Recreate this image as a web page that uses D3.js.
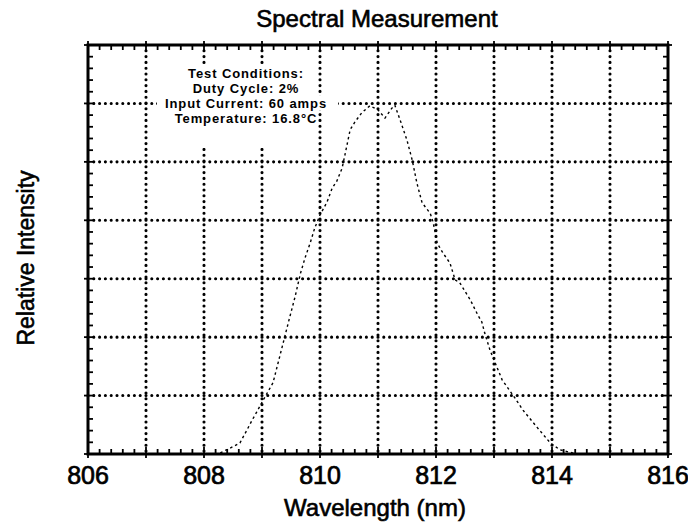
<!DOCTYPE html>
<html>
<head>
<meta charset="utf-8">
<script src="https://cdn.jsdelivr.net/npm/d3@7"></script>
<style>
  body { margin: 0; background: #fff; }
  svg { display: block; }
  text { font-family: "Liberation Sans", Arial, Helvetica, sans-serif; fill: #000; }
</style>
</head>
<body>
<div id="chart"></div>
<script>
// wavelength (nm) and relative intensity (in grid divisions)
const wavelength = [808.28, 808.45, 808.62, 808.74, 808.83, 808.91, 809.02, 809.19, 809.28, 809.47,
    809.57, 809.66, 809.74, 809.83, 809.91, 810.00, 810.12, 810.21, 810.29, 810.38,
    810.43, 810.52, 810.60, 810.72, 810.86, 811.00, 811.12, 811.24, 811.29, 811.38,
    811.50, 811.59, 811.67, 811.76, 811.90, 811.95, 812.02, 812.12, 812.24, 812.33,
    812.41, 812.59, 812.72, 812.79, 812.84, 812.93, 813.02, 813.14, 813.36, 813.50,
    813.74, 813.97, 814.14, 814.43];
const intensity = [0.02, 0.10, 0.19, 0.41, 0.58, 0.72, 0.92, 1.22, 1.57, 2.31,
    2.69, 3.08, 3.35, 3.61, 3.87, 4.09, 4.31, 4.55, 4.67, 4.89,
    5.12, 5.55, 5.68, 5.84, 5.96, 5.89, 5.75, 5.92, 5.97, 5.72,
    5.37, 5.03, 4.64, 4.30, 4.12, 3.97, 3.61, 3.44, 3.27, 2.98,
    2.93, 2.64, 2.38, 2.26, 2.07, 1.78, 1.56, 1.27, 0.96, 0.75,
    0.46, 0.19, 0.07, 0.00];

const xTickLabels = [806, 808, 810, 812, 814, 816];
const xGrid = d3.range(806, 816.001, 1);
const yGrid = d3.range(0, 7.001, 1);
const notes = ['Test Conditions:', 'Duty Cycle: 2%', 'Input Current: 60 amps', 'Temperature: 16.8\u00b0C'];

const width = 688, height = 526;

const x = d3.scaleLinear().domain([806, 816]).range([88, 668]);
const y = d3.scaleLinear().domain([0, 7]).range([454, 45]);

const svg = d3.select('#chart').append('svg')
    .attr('width', width)
    .attr('height', height);

// dotted grid
const grid = svg.append('g')
    .attr('stroke', '#000')
    .attr('stroke-width', 3.1)
    .attr('stroke-linecap', 'round')
    .attr('stroke-dasharray', '0,5.8');

grid.selectAll('.vgrid')
    .data(xGrid.slice(1, -1))
    .enter()
  .append('line')
    .attr('class', 'vgrid')
    .attr('x1', (d) => { return x(d) })
    .attr('x2', (d) => { return x(d) })
    .attr('y1', y(7))
    .attr('y2', y(0));

grid.selectAll('.hgrid')
    .data(yGrid.slice(1, -1))
    .enter()
  .append('line')
    .attr('class', 'hgrid')
    .attr('x1', x(806))
    .attr('x2', x(816))
    .attr('y1', (d) => { return y(d) })
    .attr('y2', (d) => { return y(d) });

// knock-out behind the test conditions note
svg.append('rect')
    .attr('x', 157)
    .attr('y', 64)
    .attr('width', 159)
    .attr('height', 84)
    .attr('fill', '#fff');

svg.append('rect')
    .attr('x', 316)
    .attr('y', 96)
    .attr('width', 22)
    .attr('height', 14)
    .attr('fill', '#fff');

// frame
svg.append('rect')
    .attr('x', x(806))
    .attr('y', y(7))
    .attr('width', x(816) - x(806))
    .attr('height', y(0) - y(7))
    .attr('fill', 'none')
    .attr('stroke', '#000')
    .attr('stroke-width', 3);

// minor / major ticks on all four sides
const ticks = svg.append('g')
    .attr('stroke', '#000')
    .attr('stroke-width', 1.8);

const xMinor = d3.range(806, 816.001, 0.2);
const yMinor = d3.range(0, 7.001, 0.2);
const isMajor = (v) => { return Math.abs(v - Math.round(v)) < 1e-6 };

ticks.selectAll('.tick-top')
    .data(xMinor)
    .enter()
  .append('line')
    .attr('x1', (d) => { return x(d) })
    .attr('x2', (d) => { return x(d) })
    .attr('y1', (d) => { return y(7) - (isMajor(d) ? 4 : 0) })
    .attr('y2', (d) => { return y(7) + (isMajor(d) ? 7 : 5) });

ticks.selectAll('.tick-bottom')
    .data(xMinor)
    .enter()
  .append('line')
    .attr('x1', (d) => { return x(d) })
    .attr('x2', (d) => { return x(d) })
    .attr('y1', (d) => { return y(0) + (isMajor(d) ? 4 : 0) })
    .attr('y2', (d) => { return y(0) - (isMajor(d) ? 7 : 5) });

ticks.selectAll('.tick-left')
    .data(yMinor)
    .enter()
  .append('line')
    .attr('y1', (d) => { return y(d) })
    .attr('y2', (d) => { return y(d) })
    .attr('x1', (d) => { return x(806) - (isMajor(d) ? 4 : 0) })
    .attr('x2', (d) => { return x(806) + (isMajor(d) ? 7 : 5) });

ticks.selectAll('.tick-right')
    .data(yMinor)
    .enter()
  .append('line')
    .attr('y1', (d) => { return y(d) })
    .attr('y2', (d) => { return y(d) })
    .attr('x1', (d) => { return x(816) + (isMajor(d) ? 4 : 0) })
    .attr('x2', (d) => { return x(816) - (isMajor(d) ? 7 : 5) });

// spectrum
const points = wavelength.map((w, i) => { return {w: w, v: intensity[i]} });

const line = d3.line()
    .curve(d3.curveLinear)
    .x((d) => { return x(d.w) })
    .y((d) => { return y(d.v) });

svg.append('path')
    .datum(points)
    .attr('d', line)
    .attr('fill', 'none')
    .attr('stroke', '#000')
    .attr('stroke-width', 1.4)
    .attr('stroke-dasharray', '2.5,3');

// tick labels
svg.selectAll('.xlabel')
    .data(xTickLabels)
    .enter()
  .append('text')
    .attr('x', (d) => { return x(d) })
    .attr('y', 484)
    .attr('text-anchor', 'middle')
    .style('font-size', '25px')
    .style('stroke', '#000')
    .style('stroke-width', '0.7px')
    .text((d) => { return d });

// titles
svg.append('text')
    .attr('x', 377)
    .attr('y', 27)
    .attr('text-anchor', 'middle')
    .style('font-size', '24px')
    .style('stroke', '#000')
    .style('stroke-width', '0.6px')
    .text('Spectral Measurement');

svg.append('text')
    .attr('x', 375)
    .attr('y', 516)
    .attr('text-anchor', 'middle')
    .style('font-size', '24px')
    .style('stroke', '#000')
    .style('stroke-width', '0.6px')
    .text('Wavelength (nm)');

svg.append('text')
    .attr('transform', 'translate(34,258) rotate(-90)')
    .attr('text-anchor', 'middle')
    .style('font-size', '23px')
    .style('stroke', '#000')
    .style('stroke-width', '0.6px')
    .text('Relative Intensity');

// test conditions note
svg.append('g')
    .selectAll('text')
    .data(notes)
    .enter()
  .append('text')
    .attr('x', 246)
    .attr('y', (d, i) => { return 78 + i * 15 })
    .attr('text-anchor', 'middle')
    .style('font-size', '13px')
    .style('font-weight', 'bold')
    .style('letter-spacing', '0.9px')
    .text((d) => { return d });
</script>
</body>
</html>
